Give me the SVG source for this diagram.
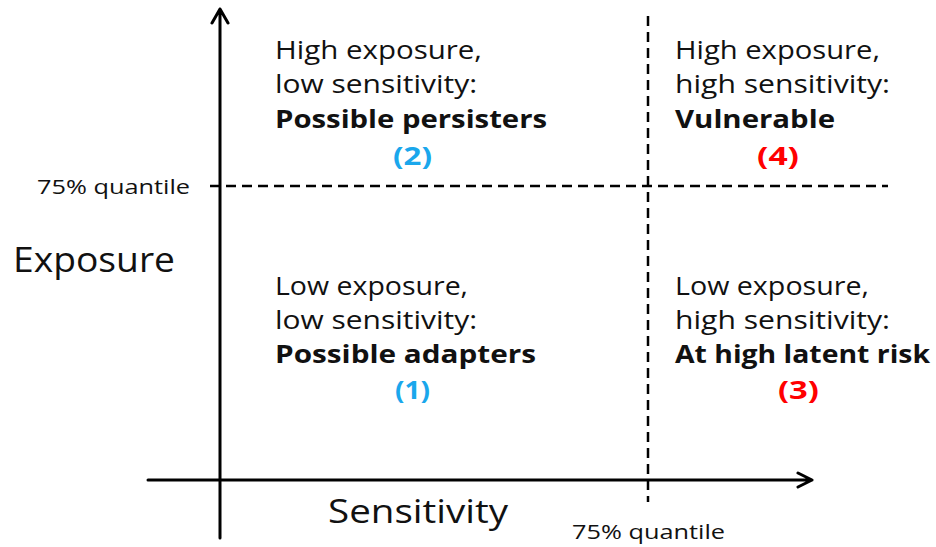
<svg xmlns="http://www.w3.org/2000/svg" width="936" height="547" viewBox="0 0 936 547">
<style>
.t{font-family:"Open Sans","Noto Sans",sans-serif;fill:#111;}
.q{font-size:25px;}
.b{font-weight:bold;}
.ax{stroke:#000;stroke-width:3;fill:none;stroke-linecap:round;stroke-linejoin:round;}
.ds{stroke:#000;stroke-width:2.5;fill:none;stroke-dasharray:10 6;}
.blue{fill:#1aa7ec;font-weight:bold;}
.red{fill:#ff0000;font-weight:bold;}
</style>
<rect width="936" height="547" fill="#fff"/>
<g id="connectors">
<path class="ds" d="M210 186 H888"/>
<path class="ds" d="M648 16 V502"/>
<path class="ax" d="M220 538 V9 M212 23 L220 9 L228 23"/>
<path class="ax" d="M148 480 H812 M798 473 L812 480 L798 487"/>
</g>
<g id="labels">
<text class="t" x="37" y="194" font-size="20" textLength="153" lengthAdjust="spacingAndGlyphs">75% quantile</text>
<text class="t" x="572" y="539" font-size="20" textLength="153" lengthAdjust="spacingAndGlyphs">75% quantile</text>
<text class="t" x="13" y="272" font-size="34" textLength="162" lengthAdjust="spacingAndGlyphs">Exposure</text>
<text class="t" x="328" y="523" font-size="33" textLength="180" lengthAdjust="spacingAndGlyphs">Sensitivity</text>
</g>
<g id="q2" class="t q">
<text x="275" y="59" textLength="207" lengthAdjust="spacingAndGlyphs">High exposure,</text>
<text x="275" y="93" textLength="202" lengthAdjust="spacingAndGlyphs">low sensitivity:</text>
<text x="275" y="128" class="b" textLength="272" lengthAdjust="spacingAndGlyphs">Possible persisters</text>
<text x="393" y="165" class="blue" textLength="39" lengthAdjust="spacingAndGlyphs">(2)</text>
</g>
<g id="q4" class="t q">
<text x="675" y="59" textLength="205" lengthAdjust="spacingAndGlyphs">High exposure,</text>
<text x="675" y="93" textLength="215" lengthAdjust="spacingAndGlyphs">high sensitivity:</text>
<text x="675" y="128" class="b" textLength="160" lengthAdjust="spacingAndGlyphs">Vulnerable</text>
<text x="757" y="165" class="red" textLength="42" lengthAdjust="spacingAndGlyphs">(4)</text>
</g>
<g id="q1" class="t q">
<text x="275" y="295" textLength="193" lengthAdjust="spacingAndGlyphs">Low exposure,</text>
<text x="275" y="329" textLength="202" lengthAdjust="spacingAndGlyphs">low sensitivity:</text>
<text x="275" y="363" class="b" textLength="261" lengthAdjust="spacingAndGlyphs">Possible adapters</text>
<text x="395" y="399" class="blue" textLength="35" lengthAdjust="spacingAndGlyphs">(1)</text>
</g>
<g id="q3" class="t q">
<text x="675" y="295" textLength="194" lengthAdjust="spacingAndGlyphs">Low exposure,</text>
<text x="675" y="329" textLength="215" lengthAdjust="spacingAndGlyphs">high sensitivity:</text>
<text x="675" y="363" class="b" textLength="255" lengthAdjust="spacingAndGlyphs">At high latent risk</text>
<text x="778" y="399" class="red" textLength="41" lengthAdjust="spacingAndGlyphs">(3)</text>
</g>
</svg>
